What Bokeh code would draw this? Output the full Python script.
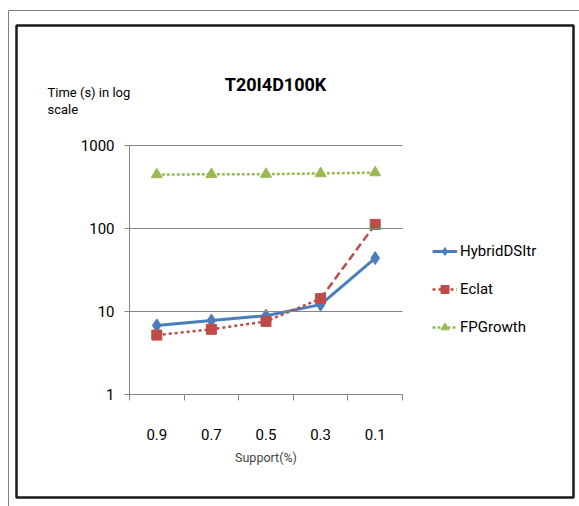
from bokeh.plotting import figure
from bokeh.models import (FixedTicker, Range1d, Legend, LegendItem, Label,
                          BoxAnnotation)
from bokeh.embed import file_html
from bokeh.resources import INLINE

# ---- data ----
categories = ["0.9", "0.7", "0.5", "0.3", "0.1"]
hybrid = [6.8, 7.8, 8.9, 12.1, 44]
eclat = [5.2, 6.1, 7.6, 14.3, 112]
fpgrowth = [447, 450, 452, 460, 472]
y_ticks = [1, 10, 100, 1000]
y_tick_labels = ["1", "10", "100", "1000"]

title_text = "T20I4D100K"
ylab_lines = ["Time (s) in log", "scale"]
xlab_text = "Support(%)"

FONT = "Roboto"
BLUE = "#4A7EBB"
RED = "#BE4B48"
GREEN = "#98B954"
GRID = "#868686"

W, H = 579, 506
# plot-area placement (canvas pixels)
PL, PR, PT, PB = 129, 402, 145, 394

xs = list(range(1, len(categories) + 1))
n = len(categories)
sx = (PR - PL) / n                      # px per category
x0 = 0.5 - PL / sx
x1 = n + 0.5 + (W - PR) / sx
dec = (PB - PT) / 3.0                   # px per decade
y0 = 10 ** (-(H - PB) / dec)
y1 = 10 ** (3 + PT / dec)

p = figure(width=W, height=H, output_backend="svg", toolbar_location=None,
           x_range=Range1d(x0, x1), y_range=Range1d(y0, y1), y_axis_type="log",
           min_border=0)
p.outline_line_color = None
p.background_fill_color = "white"
p.border_fill_color = "white"

# axes
p.xaxis.fixed_location = 1
p.xaxis.bounds = (0.5, n + 0.5)
p.xaxis.ticker = FixedTicker(ticks=xs, minor_ticks=[x - 0.5 for x in xs] + [xs[-1] + 0.5])
p.xaxis.major_label_overrides = {x: c for x, c in zip(xs, categories)}
p.xaxis.major_tick_line_color = None
p.xaxis.minor_tick_out = 6
p.xaxis.minor_tick_in = 0
p.xaxis.minor_tick_line_color = GRID
p.xaxis.axis_line_color = GRID
p.xaxis.major_label_standoff = 28
p.xaxis.major_label_text_font = FONT
p.xaxis.major_label_text_font_size = "15px"
p.xaxis.major_label_text_color = "black"
p.xaxis.axis_label = xlab_text
p.xaxis.axis_label_text_font = FONT
p.xaxis.axis_label_text_font_size = "12.5px"
p.xaxis.axis_label_text_font_style = "normal"
p.xaxis.axis_label_standoff = 7

# y axis: major ticks drawn inward across the plot act as the gridlines
p.yaxis.fixed_location = 0.5
p.yaxis.bounds = (1, 1000)
p.yaxis.ticker = FixedTicker(ticks=y_ticks, minor_ticks=[])
p.yaxis.major_label_overrides = {t: s for t, s in zip(y_ticks, y_tick_labels)}
p.yaxis.major_tick_out = 5
p.yaxis.major_tick_in = PR - PL
p.yaxis.major_tick_line_color = GRID
p.yaxis.axis_line_color = GRID
p.yaxis.major_label_standoff = 10
p.yaxis.major_label_text_font = FONT
p.yaxis.major_label_text_font_size = "15px"
p.yaxis.major_label_text_color = "black"

p.xgrid.grid_line_color = None
p.ygrid.grid_line_color = None

# series
h_line = p.line(xs, hybrid, line_color=BLUE, line_width=3)
h_mark = p.scatter(xs, hybrid, marker="diamond", size=13, fill_color=BLUE, line_color=BLUE)

e_line1 = p.line(xs[:-1], eclat[:-1], line_color=RED, line_width=2.5, line_dash="3 3")
e_line2 = p.line(xs[-2:], eclat[-2:], line_color=RED, line_width=2.5, line_dash="8 4")
e_mark = p.scatter(xs, eclat, marker="square", size=10, fill_color=RED, line_color=RED)

f_line = p.line(xs, fpgrowth, line_color=GREEN, line_width=2.5, line_dash="3 2")
f_mark = p.scatter(xs, fpgrowth, marker="triangle", size=11, fill_color=GREEN, line_color=GREEN)

legend = Legend(items=[
    LegendItem(label="HybridDSItr", renderers=[h_line, h_mark]),
    LegendItem(label="Eclat", renderers=[e_line1, e_mark]),
    LegendItem(label="FPGrowth", renderers=[f_line, f_mark]),
], location=(432, H - 337))
legend.border_line_color = None
legend.background_fill_alpha = 0
legend.padding = 0
legend.margin = 0
legend.glyph_width = 25
legend.glyph_height = 20
legend.spacing = 18
legend.label_standoff = 3
legend.label_text_font = FONT
legend.label_text_font_size = "15px"
legend.label_text_color = "black"
p.add_layout(legend, "center")

# texts (screen units: from frame bottom-left, frame == canvas)
p.add_layout(Label(x=275, y=H - 84, x_units="screen", y_units="screen", text=title_text,
                   text_align="center", text_baseline="middle", text_font=FONT,
                   text_font_size="18px", text_font_style="bold", text_color="black"))
p.add_layout(Label(x=47, y=H - 92, x_units="screen", y_units="screen", text=ylab_lines[0],
                   text_align="left", text_baseline="middle", text_font=FONT,
                   text_font_size="13px", text_color="black"))
p.add_layout(Label(x=47, y=H - 109, x_units="screen", y_units="screen", text=ylab_lines[1],
                   text_align="left", text_baseline="middle", text_font=FONT,
                   text_font_size="13px", text_color="black"))

# borders
p.add_layout(BoxAnnotation(left=8, right=W + 20, top=H - 10, bottom=-20,
                           left_units="screen", right_units="screen",
                           top_units="screen", bottom_units="screen",
                           fill_alpha=0, line_color="#808080", line_alpha=1, line_width=1))
p.add_layout(BoxAnnotation(left=16, right=573, top=H - 25, bottom=H - 497,
                           left_units="screen", right_units="screen",
                           top_units="screen", bottom_units="screen",
                           fill_alpha=0, line_color="#1a1a1a", line_alpha=1, line_width=2.5))

open("out.html", "w").write(file_html(p, INLINE))
